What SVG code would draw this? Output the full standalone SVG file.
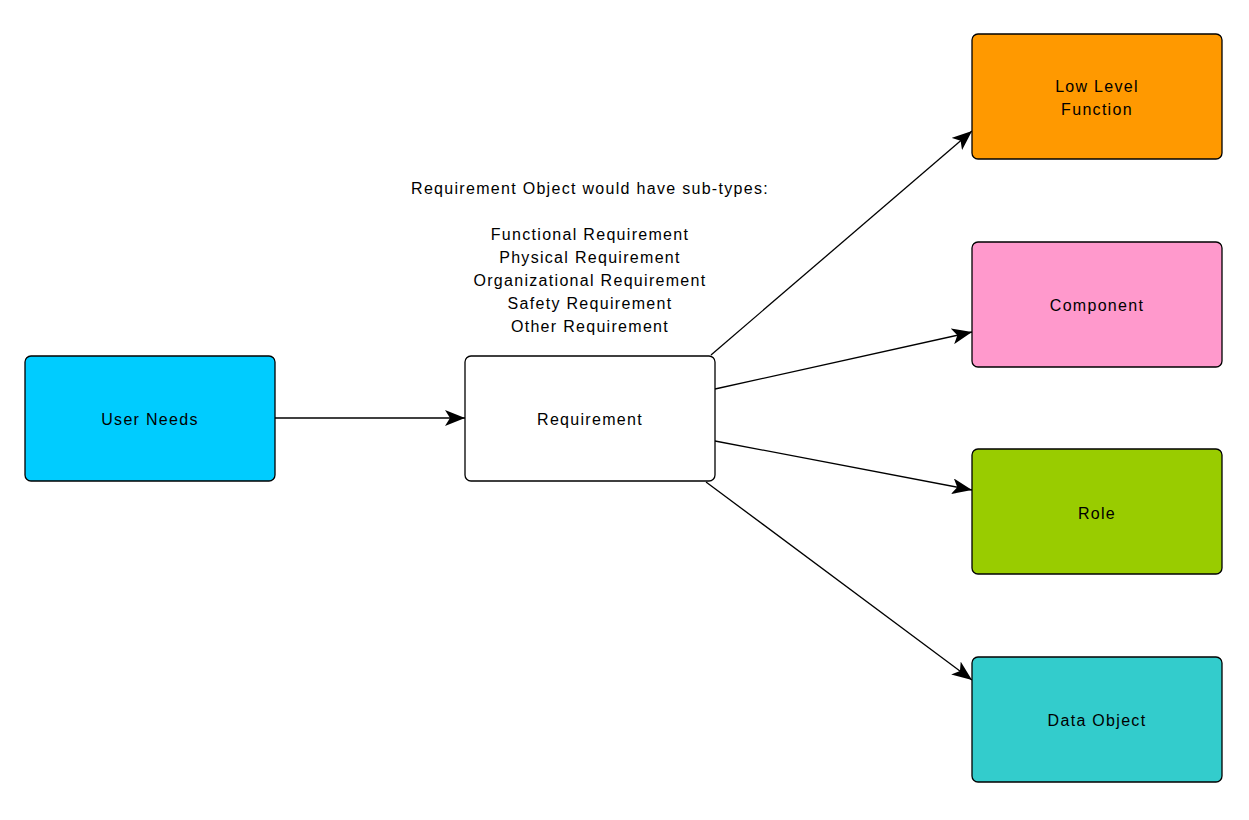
<svg xmlns="http://www.w3.org/2000/svg" width="1249" height="820" viewBox="0 0 1249 820">
<style>
.box{stroke:#000;stroke-width:1.3}
.lbl{font-family:"Liberation Sans",Arial,sans-serif;font-size:16px;letter-spacing:1.3px;fill:#000;text-anchor:middle}
.edge{stroke:#000;stroke-width:1.3;fill:none;marker-end:url(#arr)}
</style>
<defs>
<marker id="arr" markerUnits="userSpaceOnUse" markerWidth="20" markerHeight="16" refX="20" refY="8" orient="auto" viewBox="0 0 20 16">
<path d="M0,0 L20,8 L0,16 L5,8 Z" fill="#000"/>
</marker>
</defs>
<rect width="1249" height="820" fill="#fff"/>
<g id="connectors">
<path class="edge" d="M275,418 L465,418"/>
<path class="edge" d="M711,355 L972,131"/>
<path class="edge" d="M715,389 L972,332"/>
<path class="edge" d="M715,441 L972,490"/>
<path class="edge" d="M706,482 L972,680"/>
</g>
<g id="user-needs">
<rect class="box" x="25" y="356" width="250" height="125" rx="6" fill="#00ccff"/>
<text class="lbl" x="150" y="425">User Needs</text>
</g>
<g id="requirement">
<rect class="box" x="465" y="356" width="250" height="125" rx="6" fill="#fff"/>
<text class="lbl" x="590" y="425">Requirement</text>
</g>
<g id="note">
<text class="lbl" x="590" y="194">Requirement Object would have sub-types:</text>
<text class="lbl" x="590" y="240">Functional Requirement</text>
<text class="lbl" x="590" y="263">Physical Requirement</text>
<text class="lbl" x="590" y="286">Organizational Requirement</text>
<text class="lbl" x="590" y="309">Safety Requirement</text>
<text class="lbl" x="590" y="332">Other Requirement</text>
</g>
<g id="low-level-function">
<rect class="box" x="972" y="34" width="250" height="125" rx="6" fill="#ff9900"/>
<text class="lbl" x="1097" y="92">Low Level</text>
<text class="lbl" x="1097" y="115">Function</text>
</g>
<g id="component">
<rect class="box" x="972" y="242" width="250" height="125" rx="6" fill="#ff99cc"/>
<text class="lbl" x="1097" y="311">Component</text>
</g>
<g id="role">
<rect class="box" x="972" y="449" width="250" height="125" rx="6" fill="#99cc00"/>
<text class="lbl" x="1097" y="519">Role</text>
</g>
<g id="data-object">
<rect class="box" x="972" y="657" width="250" height="125" rx="6" fill="#33cccc"/>
<text class="lbl" x="1097" y="726">Data Object</text>
</g>
</svg>
